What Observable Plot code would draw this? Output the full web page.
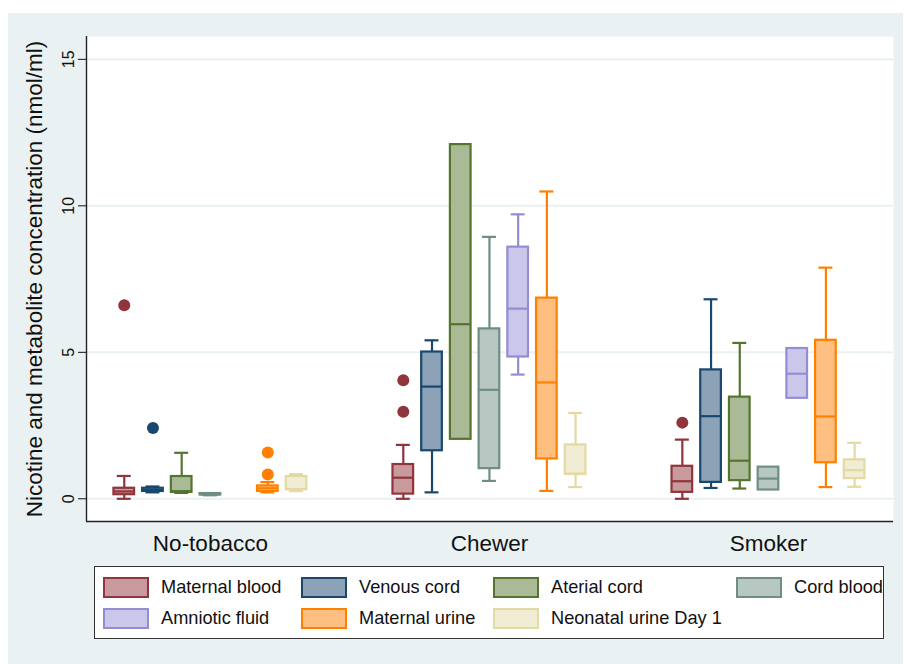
<!DOCTYPE html>
<html>
<head>
<meta charset="utf-8">
<script src="https://cdn.jsdelivr.net/npm/d3@7"></script>
<script src="https://cdn.jsdelivr.net/npm/@observablehq/plot@0.6"></script>
<style>
  html, body { margin: 0; padding: 0; background: #ffffff; }
  body { width: 904px; height: 664px; position: relative; overflow: hidden; font-family: "Liberation Sans", Arial, sans-serif; }
  #page { position: absolute; left: 8px; top: 13px; width: 895px; height: 651px; background: #eaf1f3; }
  #chart svg { display: block; }
  #chart g[aria-label="y-axis label"] { font-size: 22.5px; }
  .legend { position: absolute; left: 86px; top: 553px; width: 790px; height: 73px; box-sizing: border-box;
            border: 1.3px solid #333; background: #fff; padding: 10px 0 0 8px;
            display: grid; grid-template-columns: 198px 192px 243px auto; justify-content: start;
            column-gap: 0; row-gap: 10px; align-content: start; }
  .item { display: flex; align-items: center; height: 21px; font-size: 18.2px; color: #111; white-space: nowrap; }
  .sw { width: 46px; height: 21px; box-sizing: border-box; border: 2.5px solid; margin-right: 12px; flex: none; }
</style>
</head>
<body>
<div id="page">
  <div id="chart"></div>
  <div class="legend" id="legend"></div>
</div>
<script>
// ---- data ----
const groups = ["No-tobacco", "Chewer", "Smoker"];
const series = ["Maternal blood", "Venous cord", "Aterial cord", "Cord blood",
                "Amniotic fluid", "Maternal urine", "Neonatal urine Day 1"];
const strokeColors = ["#8f353b", "#1a476f", "#55752f", "#6e8e84", "#938dd2", "#ff8000", "#e3d9a3"];
const fillColors   = ["#c89a9d", "#8ca3b7", "#aaba97", "#b7c7c1", "#cbc7ea", "#ffbf80", "#f1ecd4"];

// rows: groups; columns: series (null = no data)
const whiskerLow = [
  [0.00, 0.22, 0.20, 0.12, null, 0.22, 0.26],
  [0.00, 0.22, 2.03, 0.61, 4.24, 0.27, 0.40],
  [0.00, 0.37, 0.35, 0.30, 3.43, 0.40, 0.41]
];
const quartile1 = [
  [0.14, 0.25, 0.22, 0.13, null, 0.25, 0.31],
  [0.16, 1.64, 2.03, 1.03, 4.84, 1.36, 0.83],
  [0.22, 0.56, 0.62, 0.30, 3.43, 1.23, 0.69]
];
const median = [
  [0.25, 0.30, 0.26, 0.15, null, 0.36, 0.33],
  [0.72, 3.83, 5.96, 3.72, 6.49, 3.97, 0.86],
  [0.60, 2.82, 1.30, 0.69, 4.27, 2.81, 0.98]
];
const quartile3 = [
  [0.36, 0.36, 0.76, 0.18, null, 0.44, 0.76],
  [1.17, 5.01, 12.09, 5.80, 8.59, 6.85, 1.84],
  [1.11, 4.40, 3.47, 1.08, 5.13, 5.41, 1.33]
];
const whiskerHigh = [
  [0.78, 0.42, 1.57, 0.19, null, 0.57, 0.84],
  [1.84, 5.41, 12.09, 8.94, 9.71, 10.49, 2.93],
  [2.02, 6.81, 5.32, 1.08, 5.13, 7.89, 1.91]
];
// [group, series, value]
const outliers = [
  ["No-tobacco", "Maternal blood", 6.61],
  ["No-tobacco", "Venous cord", 2.42],
  ["No-tobacco", "Maternal urine", 1.58],
  ["No-tobacco", "Maternal urine", 0.83],
  ["Chewer", "Maternal blood", 4.05],
  ["Chewer", "Maternal blood", 2.97],
  ["Smoker", "Maternal blood", 2.60]
];
const yTicks = [0, 5, 10, 15];

// ---- layout (x: group index; boxes offset within group) ----
const seriesStep = 0.1029, boxHalf = 0.037, capHalf = 0.025;
const xDomain = [-0.444, 2.448];
const yDomain = [-0.775, 15.78];
const xc = (gi, si) => gi + (si - (series.length - 1) / 2) * seriesStep;

const stats = [];
groups.forEach((g, gi) => series.forEach((s, si) => {
  if (quartile1[gi][si] == null) return;
  stats.push({gi, si, lo: whiskerLow[gi][si], q1: quartile1[gi][si], med: median[gi][si],
              q3: quartile3[gi][si], hi: whiskerHigh[gi][si], x: xc(gi, si)});
}));
const pts = outliers.map(([g, s, v]) => {
  const gi = groups.indexOf(g), si = series.indexOf(s);
  return {x: xc(gi, si), v, si};
});
const upper = stats.filter(d => d.hi > d.q3);
const lower = stats.filter(d => d.lo < d.q1);
const sc = d => strokeColors[d.si], fc = d => fillColors[d.si];
const lw = 2.2;

const plot = Plot.plot({
  width: 895, height: 545,
  marginLeft: 78, marginTop: 23, marginRight: 10, marginBottom: 37,
  style: {background: "#eaf1f3", color: "#111", fontFamily: "'Liberation Sans', Arial, sans-serif"},
  x: {type: "linear", domain: xDomain},
  y: {domain: yDomain},
  color: {type: "identity"},
  marks: [
    Plot.frame({fill: "white", stroke: "none"}),
    Plot.ruleY(yTicks, {stroke: "#eaf1f3", strokeWidth: 2}),
    Plot.ruleX(upper, {x: "x", y1: "q3", y2: "hi", stroke: sc, strokeWidth: lw}),
    Plot.ruleX(lower, {x: "x", y1: "lo", y2: "q1", stroke: sc, strokeWidth: lw}),
    Plot.ruleY(upper, {y: "hi", x1: d => d.x - capHalf, x2: d => d.x + capHalf, stroke: sc, strokeWidth: lw}),
    Plot.ruleY(lower, {y: "lo", x1: d => d.x - capHalf, x2: d => d.x + capHalf, stroke: sc, strokeWidth: lw}),
    Plot.rect(stats, {x1: d => d.x - boxHalf, x2: d => d.x + boxHalf, y1: "q1", y2: "q3",
                      fill: fc, stroke: sc, strokeWidth: lw}),
    Plot.ruleY(stats, {y: "med", x1: d => d.x - boxHalf, x2: d => d.x + boxHalf, stroke: sc, strokeWidth: lw}),
    Plot.dot(pts, {x: "x", y: "v", r: 6, fill: sc, stroke: "none"}),
    Plot.ruleX([xDomain[0]], {stroke: "#222", strokeWidth: 1.4}),
    Plot.ruleY([yDomain[0]], {stroke: "#222", strokeWidth: 1.4}),
    Plot.axisY({ticks: yTicks, tickSize: 8, tickPadding: 5, tickRotate: -90, fontSize: 16,
                label: "Nicotine and metabolite concentration (nmol/ml)", labelAnchor: "center",
                labelArrow: "none", labelOffset: 60}),
    Plot.axisX({ticks: [0, 1, 2], tickFormat: i => groups[i], tickSize: 0, tickPadding: 14,
                fontSize: 22.5, label: null})
  ]
});
document.getElementById("chart").appendChild(plot);

// ---- legend ----
const legend = d3.select("#legend");
series.forEach((s, i) => {
  const it = legend.append("div").attr("class", "item");
  it.append("div").attr("class", "sw").style("background", fillColors[i]).style("border-color", strokeColors[i]);
  it.append("span").text(s);
});
</script>
</body>
</html>
